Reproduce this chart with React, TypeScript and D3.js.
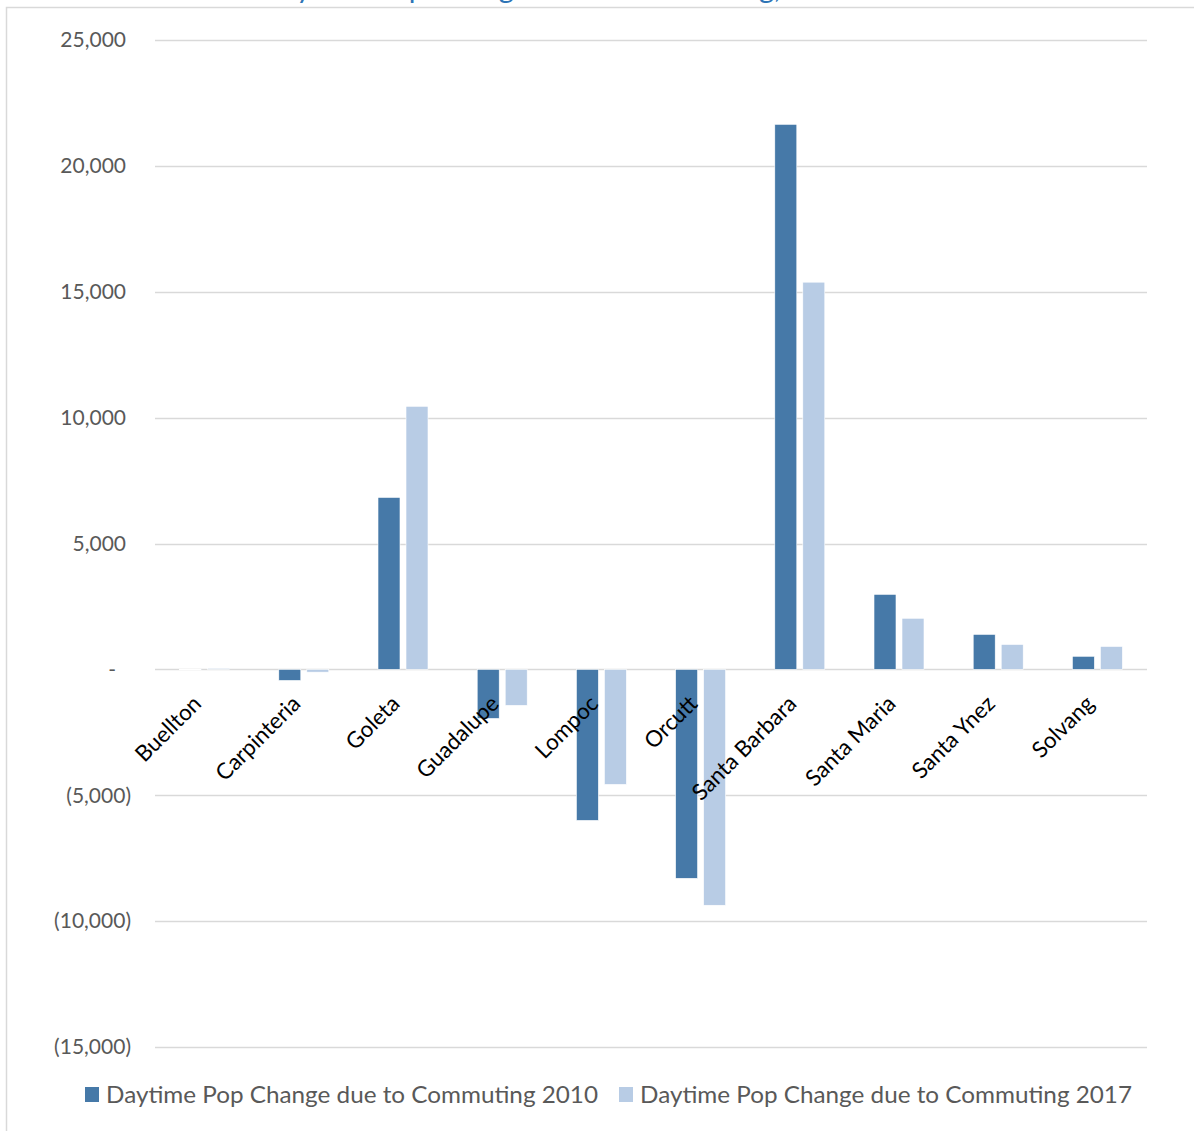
import React, { useEffect } from "react";
import * as d3 from "d3";

const categories = ["Buellton", "Carpinteria", "Goleta", "Guadalupe", "Lompoc", "Orcutt", "Santa Barbara", "Santa Maria", "Santa Ynez", "Solvang"];
const values2010 = [0, -440, 6830, -1950, -6000, -8300, 21650, 2980, 1390, 520];
const values2017 = [40, -110, 10450, -1430, -4570, -9370, 15380, 2030, 990, 910];
const seriesNames = ["Daytime Pop Change due to Commuting 2010", "Daytime Pop Change due to Commuting 2017"];
const yTicks = [25000, 20000, 15000, 10000, 5000, 0, -5000, -10000, -15000];
const title = "Daytime Pop Change due to Commuting, 2010-2017";

const W = 1194, H = 1131;
const colors = ["#4679A8", "#B8CCE5"];
const FONT = "Lato, 'Open Sans', sans-serif";

function fmt(v: number) {
  if (v === 0) return "-";
  const s = d3.format(",")(Math.abs(v));
  return v < 0 ? `(${s})` : s;
}

export default function App() {
  useEffect(() => {
    document.body.style.margin = "0";
  }, []);
  const x = d3.scaleBand<string>().domain(categories).range([155, 1147]);
  const y = d3.scaleLinear().domain([-15000, 25000]).range([1047, 40]);
  const bw = 22, gap = 6;
  const series = [values2010, values2017];
  return (
    <svg width={W} height={H} style={{ display: "block", background: "#fff" }}>
      <rect x={6.5} y={7.5} width={W} height={H} fill="none" stroke="#D9D9D9" strokeWidth={1.5} />
      <text x={597} y={-2} textAnchor="middle" fontFamily={FONT} fontSize={29} fill="#2E75B6">{title}</text>
      {yTicks.map((t) => (
        <g key={t}>
          <line x1={155} x2={1147} y1={Math.round(y(t)) + 0.5} y2={Math.round(y(t)) + 0.5} stroke="#D9D9D9" strokeWidth={1.3} />
          <text x={t === 0 ? 116 : t < 0 ? 131 : 126} y={y(t)} dy="0.35em" textAnchor="end" fontFamily={FONT} fontSize={21} fill="#595959">{fmt(t)}</text>
        </g>
      ))}
      {categories.map((c, i) => {
        const cx = (x(c) as number) + x.bandwidth() / 2;
        return (
          <g key={c}>
            {series.map((s, k) => {
              const v = s[i];
              const x0 = k === 0 ? cx - gap / 2 - bw : cx + gap / 2;
              const y0 = Math.min(y(v), y(0));
              const h = Math.abs(y(v) - y(0));
              return <rect key={k} x={x0} y={y0} width={bw} height={Math.max(h, 0.5)} fill={colors[k]} stroke="#fff" strokeWidth={0.6} />;
            })}
            <text transform={`translate(${cx - 13},${694}) rotate(-45)`} textAnchor="end" dy="0.7em" fontFamily={FONT} fontSize={22.4} fill="#000">{c}</text>
          </g>
        );
      })}
      {seriesNames.map((n, k) => {
        const lx = k === 0 ? 85 : 619;
        return (
          <g key={n}>
            <rect x={lx} y={1087} width={14} height={15} fill={colors[k]} />
            <text x={lx + 21} y={1103} fontFamily={FONT} fontSize={23} fill="#595959" textLength={492} lengthAdjust="spacingAndGlyphs">{n}</text>
          </g>
        );
      })}
    </svg>
  );
}
